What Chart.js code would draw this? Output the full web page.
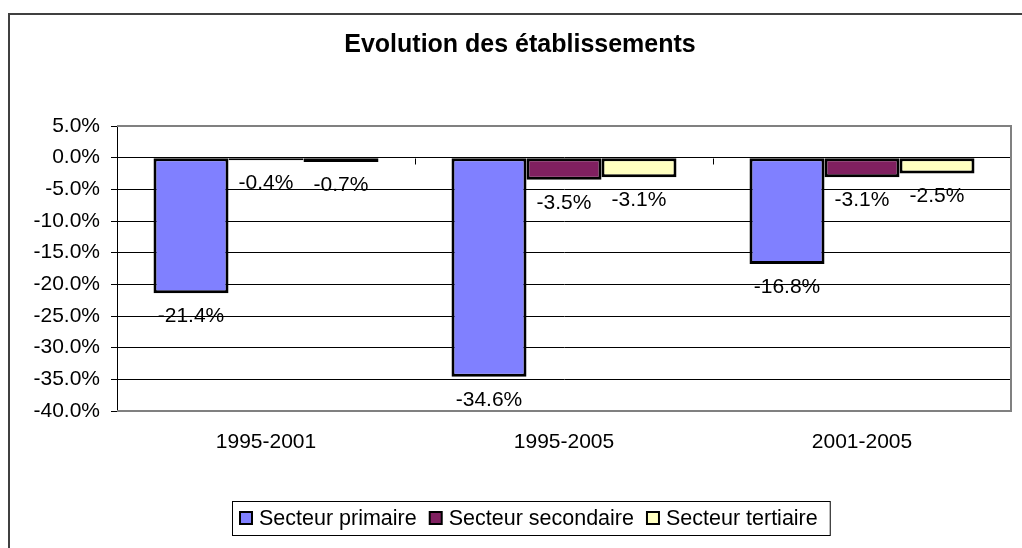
<!DOCTYPE html>
<html>
<head>
<meta charset="utf-8">
<script src="https://cdn.jsdelivr.net/npm/chart.js@4"></script>
<style>
  html, body { margin: 0; padding: 0; background: #fff; overflow: hidden; }
  #wrap { width: 1022px; height: 548px; }
</style>
</head>
<body>
<div id="wrap"><canvas id="chart" width="1022" height="548"></canvas></div>
<script>
// Data
const categories = ['1995-2001', '1995-2005', '2001-2005'];
const seriesNames = ['Secteur primaire', 'Secteur secondaire', 'Secteur tertiaire'];
const primaire = [-21.4, -34.6, -16.8];
const secondaire = [-0.4, -3.5, -3.1];
const tertiaire = [-0.7, -3.1, -2.5];
const yMin = -40;
const yMax = 5;
const yStep = 5;
const chartTitle = 'Evolution des établissements';

const seriesColors = ['#8080FF', '#802060', '#FFFFC0'];
const FONT = "'Liberation Sans', Arial, sans-serif";

// Outer frame + white background
const framePlugin = {
    id: 'frame',
    beforeDraw(chart) {
        const ctx = chart.ctx;
        ctx.save();
        ctx.fillStyle = '#fff';
        ctx.fillRect(0, 0, chart.width, chart.height);
        ctx.strokeStyle = '#404040';
        ctx.lineWidth = 2;
        ctx.strokeRect(9, 14, 1030, 560);
        ctx.restore();
    }
};

// Gray plot border and small category ticks on the zero line
const plotBorderPlugin = {
    id: 'plotBorder',
    beforeDatasetsDraw(chart) {
        const { ctx, chartArea: a, scales } = chart;
        ctx.save();
        ctx.strokeStyle = '#808080';
        ctx.lineWidth = 2;
        ctx.beginPath();
        ctx.moveTo(a.left, a.top);
        ctx.lineTo(a.right, a.top);
        ctx.lineTo(a.right, a.bottom);
        ctx.lineTo(a.left, a.bottom);
        ctx.stroke();

        const y0 = Math.round(scales.y.getPixelForValue(0)) + 0.5;
        const x = scales.x;
        ctx.strokeStyle = '#000';
        ctx.lineWidth = 1;
        for (let i = 1; i < categories.length; i++) {
            const px = Math.round((x.getPixelForValue(i - 1) + x.getPixelForValue(i)) / 2) + 0.5;
            ctx.beginPath();
            ctx.moveTo(px, y0);
            ctx.lineTo(px, y0 + 6);
            ctx.stroke();
        }
        ctx.restore();
    }
};

// Value labels below bar ends
const valueLabelPlugin = {
    id: 'valueLabels',
    afterDatasetsDraw(chart) {
        const ctx = chart.ctx;
        ctx.save();
        ctx.font = '21px ' + FONT;
        ctx.fillStyle = '#000';
        ctx.textAlign = 'center';
        ctx.textBaseline = 'middle';
        chart.data.datasets.forEach((ds, di) => {
            const meta = chart.getDatasetMeta(di);
            meta.data.forEach((bar, i) => {
                const v = ds.data[i];
                ctx.fillText(v.toFixed(1) + '%', bar.x, bar.y + 23);
            });
        });
        ctx.restore();
    }
};

// Title and boxed legend
const titleLegendPlugin = {
    id: 'titleLegend',
    afterDraw(chart) {
        const ctx = chart.ctx;
        ctx.save();
        ctx.fillStyle = '#000';
        ctx.font = 'bold 25px ' + FONT;
        ctx.textAlign = 'center';
        ctx.textBaseline = 'middle';
        ctx.fillText(chartTitle, 520, 45);

        // legend
        ctx.font = '21.5px ' + FONT;
        ctx.textAlign = 'left';
        const boxLeft = 232, boxTop = 501, boxH = 34;
        let x = boxLeft + 8;
        const cy = boxTop + boxH / 2;
        chart.data.datasets.forEach((ds, i) => {
            ctx.fillStyle = ds.backgroundColor;
            ctx.fillRect(x, cy - 6, 12, 12);
            ctx.strokeStyle = '#000';
            ctx.lineWidth = 2;
            ctx.strokeRect(x, cy - 6, 12, 12);
            ctx.fillStyle = '#000';
            ctx.fillText(ds.label, x + 19, cy + 1);
            x += 19 + ctx.measureText(ds.label).width + 13;
        });
        const boxRight = x - 13 + 12;
        ctx.strokeStyle = '#000';
        ctx.lineWidth = 1;
        ctx.strokeRect(boxLeft + 0.5, boxTop + 0.5, boxRight - boxLeft, boxH);
        ctx.restore();
    }
};

const seriesValues = [primaire, secondaire, tertiaire];

new Chart(document.getElementById('chart').getContext('2d'), {
    type: 'bar',
    data: {
        labels: categories,
        datasets: seriesNames.map((name, i) => ({
            label: name,
            data: seriesValues[i],
            backgroundColor: seriesColors[i],
            borderColor: '#000',
            borderWidth: 3,
            borderSkipped: false,
            categoryPercentage: 0.755,
            barPercentage: 1.0
        }))
    },
    options: {
        responsive: false,
        devicePixelRatio: 1,
        animation: false,
        layout: {
            padding: { top: 126, right: 11, left: 0, bottom: 0 }
        },
        plugins: {
            legend: { display: false },
            title: { display: false },
            tooltip: { enabled: false }
        },
        scales: {
            x: {
                grid: { display: false, drawTicks: false },
                border: { display: false },
                ticks: {
                    color: '#000',
                    padding: 19,
                    font: { size: 21, family: FONT }
                },
                afterFit(scale) { scale.height = 137; }
            },
            y: {
                min: yMin,
                max: yMax,
                ticks: {
                    stepSize: yStep,
                    color: '#000',
                    padding: 11,
                    font: { size: 21, family: FONT },
                    callback: v => v.toFixed(1) + '%'
                },
                grid: {
                    color: '#000',
                    lineWidth: 1,
                    tickLength: 6
                },
                border: { display: true, color: '#000', width: 1 },
                afterFit(scale) { scale.width = 117; }
            }
        }
    },
    plugins: [framePlugin, plotBorderPlugin, valueLabelPlugin, titleLegendPlugin]
});
</script>
</body>
</html>
